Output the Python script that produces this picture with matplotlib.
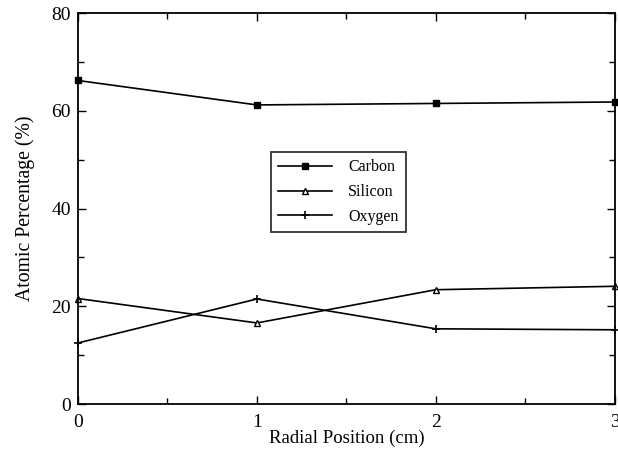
import numpy as np
import matplotlib
matplotlib.use('Agg')
import matplotlib.pyplot as plt
from matplotlib.ticker import MultipleLocator

# радиальные позиции и атомные проценты
position = [0, 1, 2, 3]
carbon = [66.2, 61.2, 61.5, 61.8]
silicon = [21.6, 16.6, 23.4, 24.1]
oxygen = [12.5, 21.5, 15.4, 15.2]

plt.rcParams['font.family'] = ['Liberation Serif', 'DejaVu Serif']

fig = plt.figure(figsize=(6.18, 4.49), dpi=100)
ax = fig.add_axes([0.126, 0.100, 0.869, 0.871])

ax.plot(position, carbon, 'k-', marker='s', markersize=5, lw=1.2, label='Carbon', clip_on=False)
ax.plot(position, silicon, 'k-', marker='^', markersize=4.5, mfc='white', mew=1, lw=1.2,
        label='Silicon', clip_on=False)
ax.plot(position, oxygen, 'k-', marker='+', markersize=6, mew=1.2, lw=1.2, label='Oxygen', clip_on=False)

ax.set_xlim(0, 3)
ax.set_ylim(0, 80)
ax.xaxis.set_major_locator(MultipleLocator(1))
ax.xaxis.set_minor_locator(MultipleLocator(0.5))
ax.yaxis.set_major_locator(MultipleLocator(20))
ax.yaxis.set_minor_locator(MultipleLocator(10))
ax.tick_params(which='both', direction='in', top=True, right=True, labelsize=14, width=1)
ax.tick_params(which='major', length=6)
ax.tick_params(which='minor', length=4)
ax.tick_params(axis='x', pad=7)
ax.tick_params(axis='y', pad=5)
for s in ax.spines.values():
    s.set_linewidth(1.3)

ax.set_xlabel('Radial Position (cm)', fontsize=13.5, labelpad=-1)
ax.set_ylabel('Atomic Percentage (%)', fontsize=14.2, labelpad=12)

leg = ax.legend(loc='upper left', bbox_to_anchor=(0.359, 0.644), fontsize=11.5, frameon=True,
                fancybox=False, edgecolor='black', handlelength=3.4, borderpad=0.45,
                labelspacing=0.55, handletextpad=1.0, borderaxespad=0)
leg.get_frame().set_linewidth(1.3)

plt.savefig('out.png', dpi=100)
